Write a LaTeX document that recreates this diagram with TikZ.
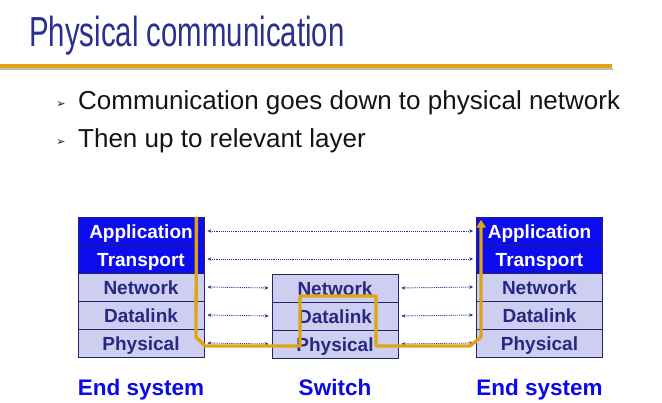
\documentclass[tikz,border=0pt]{standalone}
\usepackage{fontspec}
\setmainfont{Liberation Sans}
\newfontfamily\titlefont[FakeStretch=0.70]{Liberation Sans}
\newfontfamily\symfont{DejaVu Sans}
\usetikzlibrary{arrows.meta,calc}

\definecolor{titleblue}{RGB}{43,48,140}
\definecolor{gold}{RGB}{222,164,18}
\definecolor{shadowgray}{RGB}{190,190,190}
\definecolor{layerblue}{RGB}{12,12,238}
\definecolor{layerlav}{RGB}{206,206,240}
\definecolor{layernavy}{RGB}{40,40,130}
\definecolor{edgenavy}{RGB}{35,35,105}
\definecolor{peernavy}{RGB}{45,45,140}
\definecolor{labelblue}{RGB}{10,10,230}
\definecolor{bodytext}{RGB}{20,20,20}

\begin{document}
\begin{tikzpicture}[x=1pt,y=-1pt,
  layer/.style={draw=edgenavy, line width=0.8pt, minimum width=126, minimum height=28,
    inner sep=0pt, text height=17pt, text depth=2pt,
    font=\bfseries\fontsize{19}{21}\selectfont},
  upper/.style={layer, fill=layerblue, text=white},
  lower/.style={layer, fill=layerlav, text=layernavy},
  peer/.style={densely dotted, line width=0.9pt, draw=peernavy,
    {Stealth[length=4pt,width=3.5pt]}-{Stealth[length=4pt,width=3.5pt]},
    shorten >=3pt, shorten <=3pt},
  flow/.style={draw=gold, line width=3.3pt, line join=round,
    -{Triangle[length=8pt,width=9pt]}},
  bullet/.style={font=\symfont\fontsize{11}{12}\selectfont, text=bodytext, inner sep=0pt},
  item/.style={font=\fontsize{26}{29}\selectfont, text=bodytext, anchor=base west, inner sep=0pt},
  caption/.style={font=\bfseries\fontsize{22.5}{25}\selectfont, text=labelblue,
    inner sep=0pt, anchor=base}
]
\useasboundingbox[fill=white] (0,0) rectangle (662,403);

% title and rule
\node[anchor=base west, inner sep=0pt, text=titleblue,
      font=\titlefont\fontsize{42}{46}\selectfont] (title) at (29,47) {Physical communication};
\draw[shadowgray, line width=2pt] (0,69) -- (613,69);
\draw[gold, line width=3.5pt] (0,66) -- (612,66);

% bullet points
\node[bullet] (b1) at (61,105) {➢};
\node[item] (t1) at (78,110) {Communication goes down to physical network};
\node[bullet] (b2) at (61,143) {➢};
\node[item] (t2) at (78,148) {Then up to relevant layer};

% left end system
\node[upper] (l1) at (141,231) {Application};
\node[upper] (l2) at (141,259) {Transport};
\node[lower] (l3) at (141,287) {Network};
\node[lower] (l4) at (141,315) {Datalink};
\node[lower] (l5) at (141,343) {Physical};

% switch
\node[lower] (s3) at (335,288) {Network};
\node[lower] (s4) at (335,316) {Datalink};
\node[lower] (s5) at (335,344) {Physical};

% right end system
\node[upper] (r1) at (539.5,231) {Application};
\node[upper] (r2) at (539.5,259) {Transport};
\node[lower] (r3) at (539.5,287) {Network};
\node[lower] (r4) at (539.5,315) {Datalink};
\node[lower] (r5) at (539.5,343) {Physical};

% peer-to-peer links
\draw[peer] (l1.east) -- (r1.west);
\draw[peer] (l2.east) -- (r2.west);
\draw[peer] (l3.east) -- (s3.west);
\draw[peer] (s3.east) -- (r3.west);
\draw[peer] (l4.east) -- (s4.west);
\draw[peer] (s4.east) -- (r4.west);
\draw[peer] (l5.east) -- (s5.west);
\draw[peer] (s5.east) -- (r5.west);

% actual data path
\coordinate (start) at ($(l1.north east)+(-8,0)$);
\coordinate (finish) at ($(r1.north west)+(5,3)$);
\draw[flow] (start) -- (196,337) -- (205,346) -- (300,346) -- (300,296)
  -- (376,296) -- (376,346) -- (470,346) -- (481,337) -- (finish);

% captions
\node[caption] (c1) at (141,396) {End system};
\node[caption] (c2) at (335,396) {Switch};
\node[caption] (c3) at (539.5,396) {End system};
\end{tikzpicture}
\end{document}
